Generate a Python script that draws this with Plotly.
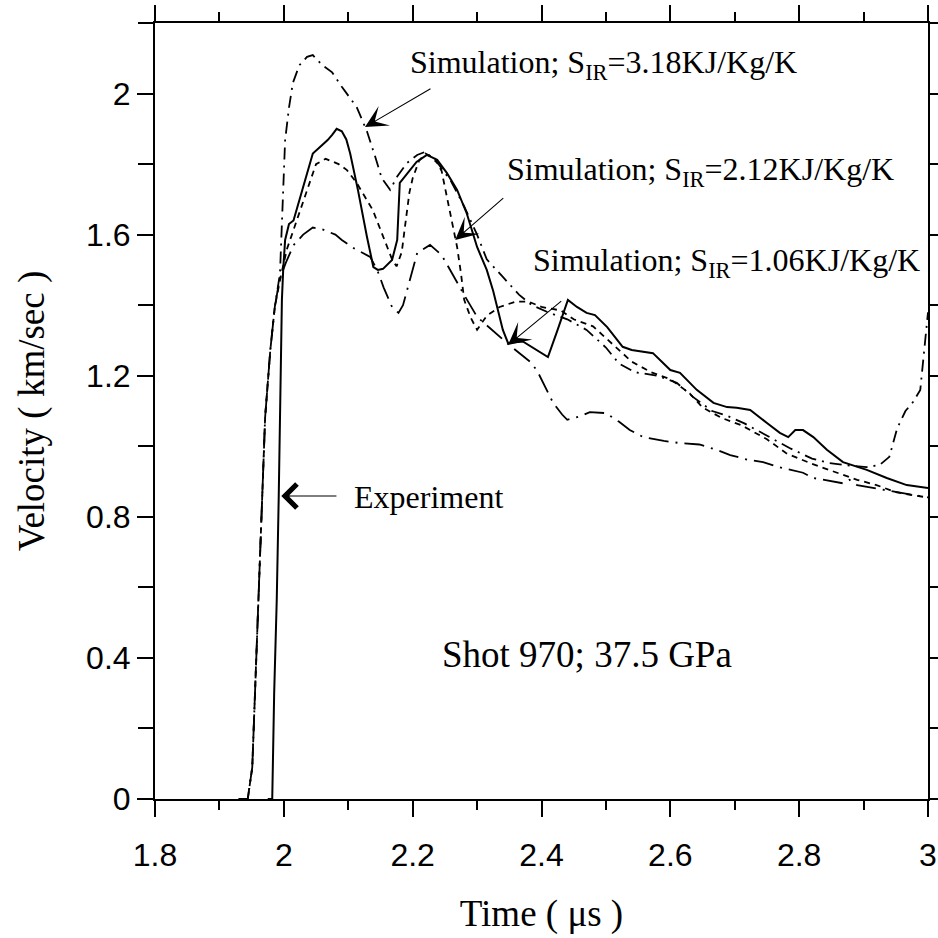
import plotly.graph_objects as go

# ---------------- data ----------------
T_EXP = [1.975, 1.982, 1.985, 1.989, 1.992, 1.994, 1.997, 1.999, 2.002, 2.008, 2.015, 2.03, 2.045,
         2.06, 2.068, 2.075, 2.082, 2.09, 2.097, 2.103, 2.115, 2.129, 2.139, 2.146, 2.154, 2.168,
         2.176, 2.180, 2.193, 2.206, 2.222, 2.238, 2.253, 2.269, 2.284, 2.30, 2.315, 2.325, 2.34,
         2.348, 2.371, 2.39, 2.41, 2.425, 2.441, 2.455, 2.47, 2.483, 2.502, 2.526, 2.54, 2.573,
         2.60, 2.615, 2.641, 2.667, 2.688, 2.703, 2.724, 2.75, 2.77, 2.783, 2.794, 2.806, 2.822,
         2.843, 2.868, 2.905, 2.936, 2.967, 3.0]
V_EXP = [0.0, 0.0, 0.3, 0.565, 0.85, 1.13, 1.415, 1.50, 1.585, 1.63, 1.64, 1.735, 1.83,
         1.855, 1.868, 1.883, 1.90, 1.893, 1.87, 1.83, 1.727, 1.594, 1.508, 1.50, 1.503, 1.528,
         1.585, 1.747, 1.775, 1.806, 1.826, 1.812, 1.775, 1.727, 1.66, 1.565, 1.50, 1.44, 1.33,
         1.293, 1.297, 1.275, 1.253, 1.33, 1.415, 1.395, 1.378, 1.372, 1.338, 1.282, 1.273, 1.264,
         1.216, 1.208, 1.16, 1.123, 1.111, 1.109, 1.103, 1.066, 1.038, 1.026, 1.046, 1.046, 1.026,
         0.990, 0.955, 0.933, 0.910, 0.890, 0.882]

T_S318 = [1.93, 1.944, 1.951, 1.955, 1.960, 1.966, 1.971, 1.979, 1.986, 1.994, 1.998, 2.002, 2.008,
          2.014, 2.024, 2.036, 2.045, 2.06, 2.075, 2.09, 2.113, 2.129, 2.142, 2.152, 2.165, 2.176,
          2.191, 2.207, 2.22, 2.24, 2.26, 2.28, 2.30, 2.315, 2.34, 2.365, 2.385, 2.41, 2.44, 2.47,
          2.50, 2.52, 2.545, 2.58, 2.61, 2.635, 2.665, 2.69, 2.715, 2.75, 2.785, 2.82, 2.845, 2.88,
          2.905, 2.925, 2.94, 2.952, 2.965, 2.977, 2.988, 2.994, 3.0]
V_S318 = [0.0, 0.0, 0.09, 0.28, 0.565, 0.848, 1.083, 1.273, 1.395, 1.49, 1.70, 1.868, 1.96,
          2.03, 2.08, 2.104, 2.109, 2.08, 2.06, 2.019, 1.962, 1.893, 1.82, 1.76, 1.727, 1.765,
          1.803, 1.826, 1.835, 1.80, 1.75, 1.68, 1.60, 1.53, 1.48, 1.43, 1.40, 1.38, 1.36, 1.33,
          1.28, 1.235, 1.21, 1.20, 1.18, 1.14, 1.10, 1.085, 1.065, 1.03, 0.995, 0.965, 0.953, 0.945,
          0.941, 0.947, 0.97, 1.05, 1.10, 1.126, 1.16, 1.27, 1.38]

T_S212 = [1.93, 1.944, 1.951, 1.955, 1.960, 1.966, 1.971, 1.979, 1.986, 1.995, 2.005, 2.02, 2.035,
          2.05, 2.065, 2.085, 2.098, 2.113, 2.138, 2.155, 2.168, 2.175, 2.183, 2.19, 2.195, 2.2,
          2.21, 2.22, 2.235, 2.245, 2.253, 2.26, 2.269, 2.275, 2.28, 2.29, 2.30, 2.315, 2.335, 2.36,
          2.38, 2.40, 2.43, 2.45, 2.48, 2.51, 2.54, 2.57, 2.60, 2.63, 2.65, 2.68, 2.71, 2.75, 2.78,
          2.82, 2.85, 2.89, 2.92, 2.95, 2.98, 3.0]
V_S212 = [0.0, 0.0, 0.09, 0.28, 0.565, 0.848, 1.083, 1.273, 1.395, 1.48, 1.56, 1.64, 1.72,
          1.80, 1.815, 1.80, 1.783, 1.747, 1.67, 1.59, 1.53, 1.51, 1.55, 1.65, 1.72, 1.76,
          1.81, 1.83, 1.815, 1.78, 1.71, 1.65, 1.565, 1.49, 1.415, 1.365, 1.33, 1.37, 1.395, 1.41,
          1.41, 1.395, 1.385, 1.36, 1.34, 1.29, 1.24, 1.21, 1.19, 1.15, 1.11, 1.08, 1.06, 1.02, 0.98,
          0.95, 0.93, 0.905, 0.89, 0.87, 0.86, 0.855]

T_S106 = [1.93, 1.944, 1.951, 1.955, 1.960, 1.966, 1.971, 1.979, 1.986, 1.993, 2.003, 2.015, 2.03,
          2.045, 2.06, 2.08, 2.09, 2.11, 2.134, 2.145, 2.155, 2.168, 2.178, 2.185, 2.195, 2.207,
          2.227, 2.245, 2.273, 2.278, 2.30, 2.33, 2.348, 2.382, 2.393, 2.418, 2.432, 2.44, 2.46,
          2.475, 2.50, 2.52, 2.537, 2.558, 2.59, 2.615, 2.645, 2.672, 2.693, 2.72, 2.744, 2.77,
          2.806, 2.822, 2.85, 2.868, 2.878, 2.89, 2.92, 2.95, 2.98, 3.0]
V_S106 = [0.0, 0.0, 0.09, 0.28, 0.565, 0.848, 1.083, 1.273, 1.395, 1.47, 1.52, 1.57, 1.60,
          1.62, 1.615, 1.60, 1.585, 1.56, 1.537, 1.50, 1.45, 1.395, 1.378, 1.40, 1.47, 1.548,
          1.571, 1.542, 1.452, 1.435, 1.367, 1.32, 1.29, 1.24, 1.215, 1.123, 1.09, 1.075, 1.085,
          1.097, 1.094, 1.07, 1.046, 1.026, 1.015, 1.009, 1.005, 0.99, 0.975, 0.962, 0.955, 0.94,
          0.925, 0.91, 0.90, 0.895, 0.905, 0.89, 0.88, 0.87, 0.862, 0.855]

X_TICKS = [1.8, 2.0, 2.2, 2.4, 2.6, 2.8, 3.0]
X_TICK_LABELS = ["1.8", "2", "2.2", "2.4", "2.6", "2.8", "3"]
Y_TICKS = [0, 0.4, 0.8, 1.2, 1.6, 2.0]
Y_TICK_LABELS = ["0", "0.4", "0.8", "1.2", "1.6", "2"]

LABEL_318 = "Simulation; S<sub>IR</sub>=3.18KJ/Kg/K"
LABEL_212 = "Simulation; S<sub>IR</sub>=2.12KJ/Kg/K"
LABEL_106 = "Simulation; S<sub>IR</sub>=1.06KJ/Kg/K"

# ---------------- figure ----------------
fig = go.Figure()
line_w = 1.8
fig.add_trace(go.Scatter(x=T_S318, y=V_S318, mode="lines",
                         line=dict(color="black", width=line_w, dash="12px,6px,2px,6px")))
fig.add_trace(go.Scatter(x=T_S212, y=V_S212, mode="lines",
                         line=dict(color="black", width=line_w, dash="6px,5px")))
fig.add_trace(go.Scatter(x=T_S106, y=V_S106, mode="lines",
                         line=dict(color="black", width=line_w, dash="20px,7px,2px,7px")))
fig.add_trace(go.Scatter(x=T_EXP, y=V_EXP, mode="lines",
                         line=dict(color="black", width=2.0)))

serif = "Liberation Serif, Times New Roman, serif"
sans = "Liberation Sans, Arial, sans-serif"

ann_font = dict(family=serif, size=32, color="black")
annotations = [
    # text labels
    dict(x=2.193, y=2.081, text=LABEL_318, showarrow=False, xanchor="left", yanchor="middle", font=ann_font),
    dict(x=2.343, y=1.778, text=LABEL_212, showarrow=False, xanchor="left", yanchor="middle", font=ann_font),
    dict(x=2.384, y=1.520, text=LABEL_106, showarrow=False, xanchor="left", yanchor="middle", font=ann_font),
    dict(x=2.106, y=0.856, text="Experiment", showarrow=False, xanchor="left", yanchor="middle", font=ann_font),
    dict(x=2.242, y=0.41, text="Shot 970; 37.5 GPa", showarrow=False, xanchor="left", yanchor="middle",
         font=dict(family=serif, size=37, color="black")),
]
arrows = [
    (2.126, 1.905, 2.230, 2.016, 3),
    (2.266, 1.585, 2.343, 1.707, 3),
    (2.348, 1.287, 2.433, 1.415, 3),
    (1.996, 0.859, 2.084, 0.859, 4),
]
for (xt, yt, xs, ys, head) in arrows:
    annotations.append(dict(x=xt, y=yt, ax=xs, ay=ys, xref="x", yref="y", axref="x", ayref="y",
                            text="", showarrow=True, arrowhead=head, arrowsize=3.4 if head == 3 else 4.2,
                            arrowwidth=1.1, arrowcolor="black", standoff=0))

fig.update_layout(
    width=938, height=938,
    margin=dict(l=155, r=10, t=23, b=139, autoexpand=False),
    paper_bgcolor="white", plot_bgcolor="white",
    showlegend=False,
    annotations=annotations,
    font=dict(family=sans, color="black"),
)
fig.update_xaxes(
    automargin=False,
    range=[1.8, 3.0], tickvals=X_TICKS, ticktext=X_TICK_LABELS,
    showgrid=False, zeroline=False, showline=True, linecolor="black", linewidth=2,
    mirror="ticks", ticks="outside", ticklen=16, tickwidth=2, tickcolor="black",
    tickfont=dict(family=sans, size=32, color="black"), ticklabelstandoff=11,
    minor=dict(dtick=0.1, ticks="outside", ticklen=9, tickwidth=2, tickcolor="black", showgrid=False),
    title=dict(text="Time ( \u03bcs )", font=dict(family=serif, size=37, color="black"), standoff=28),
)
fig.update_yaxes(
    automargin=False,
    range=[0, 2.2], tickvals=Y_TICKS, ticktext=Y_TICK_LABELS,
    showgrid=False, zeroline=False, showline=True, linecolor="black", linewidth=2,
    mirror="ticks", ticks="outside", ticklen=16, tickwidth=2, tickcolor="black",
    tickfont=dict(family=sans, size=32, color="black"),
    minor=dict(dtick=0.2, ticks="outside", ticklen=15, tickwidth=2, tickcolor="black", showgrid=False),
    title=dict(text="Velocity ( km/sec )", font=dict(family=serif, size=37, color="black"), standoff=30),
)

fig.write_html("out.html", config={"displayModeBar": False},
               post_script="document.body.style.margin='0px';")
